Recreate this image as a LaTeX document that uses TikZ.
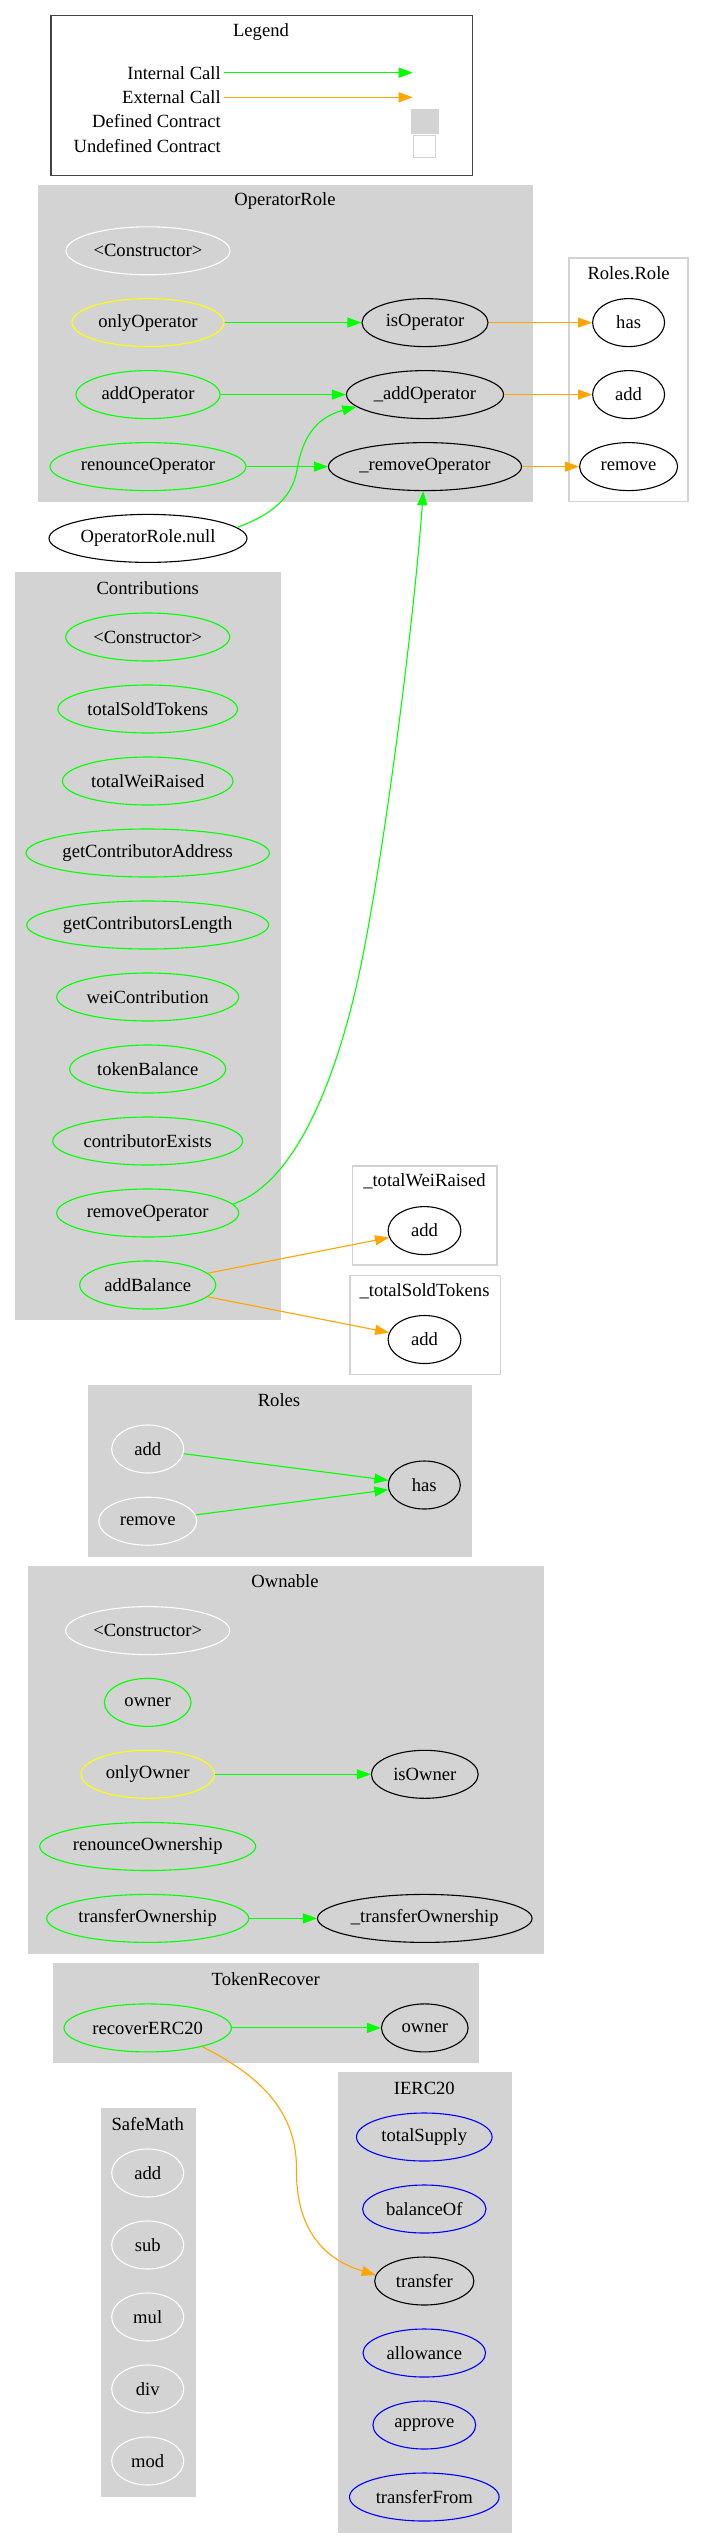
\documentclass[tikz,border=0pt]{standalone}
\usepackage{fontspec}
\setmainfont{Liberation Serif}
\usetikzlibrary{shapes.geometric,arrows.meta}
\definecolor{lgray}{HTML}{D3D3D3}
\definecolor{cgreen}{HTML}{00FF00}
\definecolor{corange}{HTML}{FFA500}
\definecolor{cyellow}{HTML}{FFFF00}
\definecolor{cblue}{HTML}{0000FF}
\definecolor{legendframe}{HTML}{444444}
\begin{document}
\begin{tikzpicture}[x=1pt,y=-1pt,
  every node/.style={font=\fontsize{18.6}{22}\selectfont},
  fn/.style={ellipse, draw=#1, line width=1.1pt, minimum height=48pt, inner sep=0pt},
  fn/.default=black,
  ctitle/.style={inner sep=0pt},
  grayclus/.style={fill=lgray, draw=lgray, line width=1pt},
  whiteclus/.style={fill=white, draw=lgray, line width=1.3pt},
  int/.style={draw=cgreen, line width=1.1pt, -{Triangle[length=14pt,width=10pt]}},
  ext/.style={draw=corange, line width=1.1pt, -{Triangle[length=14pt,width=10pt]}}
]
\useasboundingbox (0,0) rectangle (704,2548);

% ---------------- Legend ----------------
\draw[legendframe, line width=1.4pt] (51,15.7) rectangle (472.3,175.7);
\node[ctitle] (lgTitle) at (261,31.7) {Legend};
\node[ctitle, anchor=east] (lgInt) at (221,72.7) {Internal Call};
\node[ctitle, anchor=east] (lgExt) at (221,97.3) {External Call};
\node[ctitle, anchor=east] (lgDefT) at (221,121) {Defined Contract};
\node[ctitle, anchor=east] (lgUndT) at (221,145.7) {Undefined Contract};
\coordinate (lgIntA) at (224.3,72.7);
\coordinate (lgIntB) at (412.7,72.7);
\coordinate (lgExtA) at (224.3,97.3);
\coordinate (lgExtB) at (412.7,97.3);
\draw[int] (lgIntA) -- (lgIntB);
\draw[ext] (lgExtA) -- (lgExtB);
\node[draw=lgray, fill=lgray, minimum width=26.7pt, minimum height=24.3pt, inner sep=0pt] (lgDef) at (424.7,121.2) {};
\node[draw=lgray, fill=white, line width=1pt, minimum width=22pt, minimum height=22pt, inner sep=0pt] (lgUnd) at (424.7,146.3) {};

% ---------------- OperatorRole ----------------
\path[grayclus] (38.6,185.7) rectangle (532.5,501.7);
\node[ctitle] (tOperatorRole) at (285,201) {OperatorRole};
\node[fn=white, minimum width=164pt] (orCtor) at (148,250.8) {<Constructor>};
\node[fn=cyellow, minimum width=152pt] (onlyOperator) at (148,322.6) {onlyOperator};
\node[fn, minimum width=126pt] (isOperator) at (425,322.6) {isOperator};
\node[fn=cgreen, minimum width=144pt] (addOperator) at (148,394.6) {addOperator};
\node[fn, minimum width=157pt] (addOpPriv) at (425,394.6) {\_addOperator};
\node[fn=cgreen, minimum width=196pt] (renounceOperator) at (148,466.6) {renounceOperator};
\node[fn, minimum width=193pt] (removeOpPriv) at (425,466.6) {\_removeOperator};

% ---------------- Roles.Role ----------------
\path[whiteclus] (569,258) rectangle (688,501.4);
\node[ctitle] (tRolesRole) at (628.6,273.6) {Roles.Role};
\node[fn, minimum width=72pt] (rrHas) at (628.6,322.6) {has};
\node[fn, minimum width=72pt] (rrAdd) at (628.6,394.6) {add};
\node[fn, minimum width=98pt] (rrRemove) at (628.6,466.6) {remove};

% ---------------- OperatorRole.null ----------------
\node[fn, minimum width=198pt] (opNull) at (148,538.4) {OperatorRole.null};

% ---------------- Contributions ----------------
\path[grayclus] (15.3,572.4) rectangle (280.6,1319);
\node[ctitle] (tContributions) at (147.7,587.8) {Contributions};
\node[fn=cgreen, minimum width=164pt] (cCtor) at (147.7,637) {<Constructor>};
\node[fn=cgreen, minimum width=179.6pt] (totalSoldTokens) at (147.7,709) {totalSoldTokens};
\node[fn=cgreen, minimum width=170.6pt] (totalWeiRaised) at (147.7,781) {totalWeiRaised};
\node[fn=cgreen, minimum width=243.4pt] (getContributorAddress) at (147.7,853) {getContributorAddress};
\node[fn=cgreen, minimum width=242pt] (getContributorsLength) at (147.7,925) {getContributorsLength};
\node[fn=cgreen, minimum width=182pt] (weiContribution) at (147.7,997) {weiContribution};
\node[fn=cgreen, minimum width=156pt] (tokenBalance) at (147.7,1069) {tokenBalance};
\node[fn=cgreen, minimum width=190pt] (contributorExists) at (147.7,1141) {contributorExists};
\node[fn=cgreen, minimum width=182pt] (removeOperator) at (147.7,1213) {removeOperator};
\node[fn=cgreen, minimum width=136pt] (addBalance) at (147.7,1285) {addBalance};

% ---------------- _totalWeiRaised / _totalSoldTokens ----------------
\path[whiteclus] (352.5,1166) rectangle (497,1265);
\node[ctitle] (tTotalWeiRaised) at (424.5,1181) {\_totalWeiRaised};
\node[fn, minimum width=72.8pt] (twrAdd) at (424.5,1230.6) {add};
\path[whiteclus] (350,1275.5) rectangle (500.7,1374.3);
\node[ctitle] (tTotalSoldTokens) at (424.5,1290.8) {\_totalSoldTokens};
\node[fn, minimum width=72.8pt] (tstAdd) at (424.5,1339.5) {add};

% ---------------- Roles ----------------
\path[grayclus] (88,1385) rectangle (471.5,1556.3);
\node[ctitle] (tRoles) at (279,1400.4) {Roles};
\node[fn=white, minimum width=72pt] (rAdd) at (147.7,1449) {add};
\node[fn=white, minimum width=98pt] (rRemove) at (147.7,1521.2) {remove};
\node[fn, minimum width=72pt] (rHas) at (424.3,1485) {has};

% ---------------- Ownable ----------------
\path[grayclus] (28.3,1566) rectangle (543,1953);
\node[ctitle] (tOwnable) at (285,1581) {Ownable};
\node[fn=white, minimum width=164pt] (oCtor) at (147.7,1630.6) {<Constructor>};
\node[fn=cgreen, minimum width=86.6pt] (oOwner) at (147.7,1702.4) {owner};
\node[fn=cyellow, minimum width=133.4pt] (onlyOwner) at (147.7,1774.3) {onlyOwner};
\node[fn, minimum width=106.8pt] (isOwner) at (424.8,1774.3) {isOwner};
\node[fn=cgreen, minimum width=216pt] (renounceOwnership) at (147.7,1846.5) {renounceOwnership};
\node[fn=cgreen, minimum width=202pt] (transferOwnership) at (147.7,1918.4) {transferOwnership};
\node[fn, minimum width=214.6pt] (transferOwnPriv) at (424.8,1918.4) {\_transferOwnership};

% ---------------- TokenRecover ----------------
\path[grayclus] (53.4,1963.4) rectangle (478.7,2062.7);
\node[ctitle] (tTokenRecover) at (265.8,1979.5) {TokenRecover};
\node[fn=cgreen, minimum width=167.4pt] (recoverERC20) at (147.7,2027.9) {recoverERC20};
\node[fn, minimum width=86.6pt] (trOwner) at (424.8,2027.9) {owner};

% ---------------- IERC20 ----------------
\path[grayclus] (338.6,2072.5) rectangle (511,2532.6);
\node[ctitle] (tIERC20) at (424.3,2088.2) {IERC20};
\node[fn=cblue, minimum width=135.6pt] (totalSupply) at (424.3,2137) {totalSupply};
\node[fn=cblue, minimum width=123.4pt] (balanceOf) at (424.3,2209) {balanceOf};
\node[fn, minimum width=99.2pt] (transfer) at (424.3,2281) {transfer};
\node[fn=cblue, minimum width=122.6pt] (allowance) at (424.3,2353) {allowance};
\node[fn=cblue, minimum width=102.8pt] (approve) at (424.3,2425) {approve};
\node[fn=cblue, minimum width=149.6pt] (transferFrom) at (424.3,2497) {transferFrom};

% ---------------- SafeMath ----------------
\path[grayclus] (101,2108.9) rectangle (195.3,2496.2);
\node[ctitle] (tSafeMath) at (147.7,2123.9) {SafeMath};
\node[fn=white, minimum width=72pt] (smAdd) at (147.7,2173) {add};
\node[fn=white, minimum width=72pt] (smSub) at (147.7,2245) {sub};
\node[fn=white, minimum width=72pt] (smMul) at (147.7,2317) {mul};
\node[fn=white, minimum width=72pt] (smDiv) at (147.7,2389) {div};
\node[fn=white, minimum width=72pt] (smMod) at (147.7,2461) {mod};

% ---------------- Edges ----------------
\draw[int] (onlyOperator) -- (isOperator);
\draw[ext] (isOperator) -- (rrHas);
\draw[int] (addOperator) -- (addOpPriv);
\draw[ext] (addOpPriv) -- (rrAdd);
\draw[int] (renounceOperator) -- (removeOpPriv);
\draw[ext] (removeOpPriv) -- (rrRemove);
\draw[int] (opNull.7) .. controls (268,516) and (292,500) .. (297,470)
  .. controls (302,440) and (314,418) .. (addOpPriv.190);
\draw[int] (removeOperator.6) .. controls (310,1178) and (348,1030) .. (362,960)
  .. controls (386,840) and (414,620) .. (removeOpPriv.266);
\draw[ext] (addBalance) -- (twrAdd);
\draw[ext] (addBalance) -- (tstAdd);
\draw[int] (rAdd) -- (rHas);
\draw[int] (rRemove) -- (rHas);
\draw[int] (onlyOwner) -- (isOwner);
\draw[int] (transferOwnership) -- (transferOwnPriv);
\draw[int] (recoverERC20) -- (trOwner);
\draw[ext] (recoverERC20.-19) .. controls (265,2078) and (297,2115) .. (296.5,2170)
  .. controls (296,2225) and (320,2258) .. (transfer.173);
\end{tikzpicture}
\end{document}
